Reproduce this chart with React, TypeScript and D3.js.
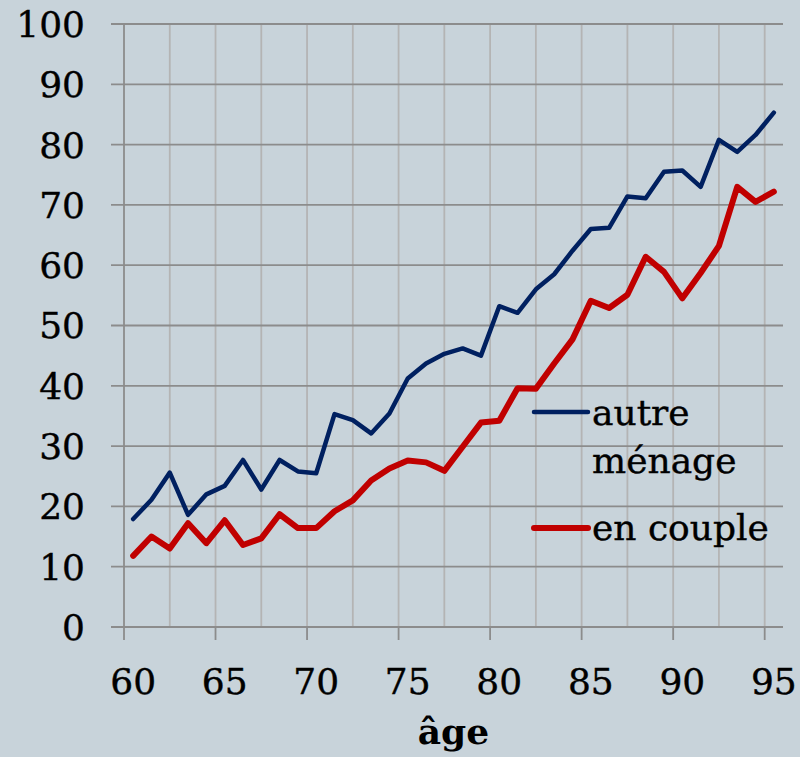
import React from "react";
import * as d3 from "d3";

const ages: number[] = d3.range(60, 96);
const autreMenage: number[] = [
  17.9, 21.1, 25.6, 18.6, 22.0, 23.4, 27.7, 22.8, 27.7, 25.8, 25.5, 35.3,
  34.3, 32.1, 35.4, 41.2, 43.7, 45.3, 46.2, 45.0, 53.2, 52.1, 56.0, 58.5,
  62.4, 66.0, 66.2, 71.4, 71.1, 75.5, 75.7, 73.0, 80.8, 78.8, 81.6, 85.3,
];
const enCouple: number[] = [
  11.8, 15.0, 13.0, 17.2, 13.9, 17.7, 13.6, 14.7, 18.7, 16.4, 16.4, 19.2,
  21.0, 24.3, 26.3, 27.6, 27.3, 25.9, 29.9, 33.9, 34.2, 39.6, 39.5, 43.7,
  47.7, 54.1, 52.9, 55.1, 61.4, 58.9, 54.5, 58.7, 63.2, 73.0, 70.5, 72.2,
];
const yTicks: number[] = [0, 10, 20, 30, 40, 50, 60, 70, 80, 90, 100];
const xLabels: number[] = [60, 65, 70, 75, 80, 85, 90, 95];
const seriesNames: string[][] = [["autre", "ménage"], ["en couple"]];
const xTitle = "âge";

const W = 800;
const H = 757;
const BG = "#c8d3da";
const FONT = "'DejaVu Serif', Georgia, serif";
const BLUE = "#002060";
const RED = "#c00000";

export default function App() {
  const left = 124;
  const right = 783;
  const top = 24;
  const bottom = 627;

  const x = d3.scaleBand<number>().domain(ages).range([left, right]).padding(0);
  const cx = (a: number) => (x(a) as number) + x.bandwidth() / 2;
  const y = d3.scaleLinear().domain([0, 100]).range([bottom, top]);

  const line = d3
    .line<number>()
    .x((_, i) => cx(ages[i]))
    .y((d) => y(d));

  const bw = x.bandwidth();
  const vGrid: number[] = d3.range(0, 15).map((k) => left + k * 2.5 * bw);
  const majorTicks: number[] = d3.range(0, 8).map((k) => left + k * 5 * bw);

  return (
    <svg
      width={W}
      height={H}
      style={{ position: "absolute", left: 0, top: 0, background: BG }}
    >
      <rect x={0} y={0} width={W} height={H} fill={BG} />
      {vGrid.slice(1).map((gx, i) => (
        <line key={"v" + i} x1={gx} x2={gx} y1={top} y2={bottom} stroke="#b4b4b4" strokeWidth={1.8} />
      ))}
      {yTicks.map((t) => (
        <line key={"h" + t} x1={left - 13} x2={right} y1={y(t)} y2={y(t)} stroke="#8c8c8c" strokeWidth={1.8} />
      ))}
      <line x1={left} x2={left} y1={top} y2={bottom} stroke="#8c8c8c" strokeWidth={1.8} />
      {majorTicks.map((tx, i) => (
        <line key={"t" + i} x1={tx} x2={tx} y1={bottom} y2={bottom + 13} stroke="#8c8c8c" strokeWidth={1.8} />
      ))}
      {yTicks.map((t) => (
        <text key={"yl" + t} x={85} y={y(t)} dy="0.36em" textAnchor="end" fontFamily={FONT} fontSize={36} fill="#000" stroke="#000" strokeWidth={0.4}>
          {t}
        </text>
      ))}
      {xLabels.map((a) => (
        <text key={"xl" + a} x={cx(a)} y={694} textAnchor="middle" fontFamily={FONT} fontSize={36} fill="#000" stroke="#000" strokeWidth={0.4}>
          {a}
        </text>
      ))}
      <text x={(left + right) / 2} y={744} textAnchor="middle" fontFamily={FONT} fontSize={36} fontWeight="bold" fill="#000">
        {xTitle}
      </text>
      <path d={line(autreMenage) || ""} fill="none" stroke={BLUE} strokeWidth={4.5} strokeLinejoin="round" strokeLinecap="round" />
      <path d={line(enCouple) || ""} fill="none" stroke={RED} strokeWidth={6} strokeLinejoin="round" strokeLinecap="round" />
      <line x1={534} x2={588} y1={412} y2={412} stroke={BLUE} strokeWidth={4.5} strokeLinecap="round" />
      <text x={592} y={425} fontFamily={FONT} fontSize={36} fill="#000" stroke="#000" strokeWidth={0.4}>{seriesNames[0][0]}</text>
      <text x={592} y={473} fontFamily={FONT} fontSize={36} fill="#000" stroke="#000" strokeWidth={0.4}>{seriesNames[0][1]}</text>
      <line x1={534} x2={588} y1={528} y2={528} stroke={RED} strokeWidth={6} strokeLinecap="round" />
      <text x={592} y={540} fontFamily={FONT} fontSize={36} fill="#000" stroke="#000" strokeWidth={0.4}>{seriesNames[1][0]}</text>
    </svg>
  );
}
